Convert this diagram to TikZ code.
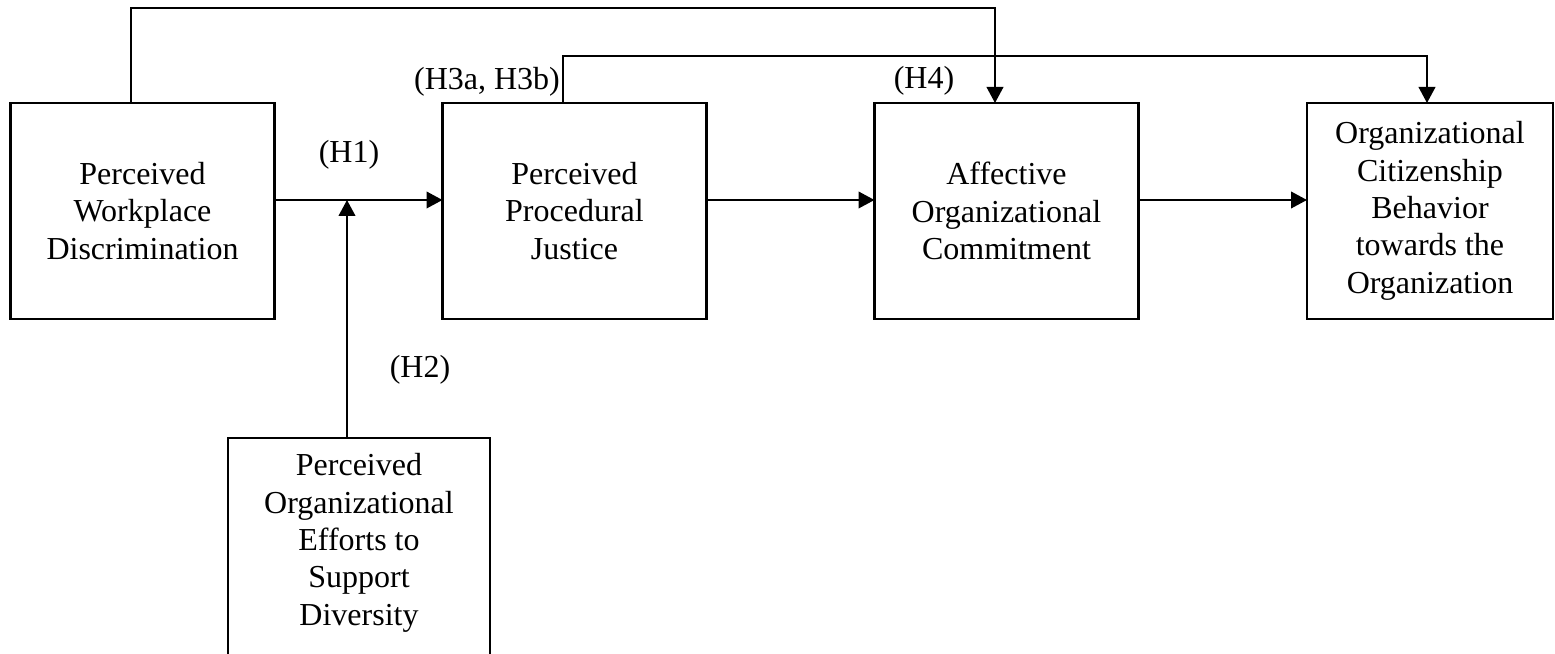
\documentclass[tikz,border=0pt]{standalone}
\usepackage{fontspec}
\setmainfont{Liberation Serif}
\usetikzlibrary{arrows.meta}
\begin{document}
\begin{tikzpicture}[x=0.375pt,y=-0.375pt,
  box/.style={draw, line width=0.85pt, inner sep=0pt, outer sep=0pt, minimum height=81pt, align=center, font=\fontsize{12}{14}\selectfont},
  txt/.style={align=center, inner sep=0pt, font=\fontsize{12}{14}\selectfont},
  lab/.style={inner sep=0pt, anchor=base, font=\fontsize{12}{14}\selectfont},
  arr/.style={line width=0.85pt, -{Triangle[length=6pt,width=6.2pt]}}]
\useasboundingbox (0,0) rectangle (1555,654);
\clip (0,0) rectangle (1555,654);
\node[box, minimum width=99pt] (pwd) at (142.5,211) {Perceived\\Workplace\\Discrimination};
\node[box, minimum width=99pt] (ppj) at (574.5,211) {Perceived\\Procedural\\Justice};
\node[box, minimum width=99pt] (aoc) at (1006.5,211) {Affective\\Organizational\\Commitment};
\node[box, minimum width=92.25pt] (ocb) at (1430,211) {Organizational\\Citizenship\\Behavior\\towards the\\Organization};
\node[box, minimum width=98.25pt, minimum height=90pt, anchor=north] (pe) at (359,438) {};
\node[txt] (pet) at (359,543) {Perceived\\Organizational\\Efforts to\\Support\\Diversity};
\coordinate (ay) at (0,200);
\coordinate (m) at (347,200);
\coordinate (t1) at (131,8);
\coordinate (t2) at (995,8);
\coordinate (t3) at (563,56);
\coordinate (t4) at (1427,56);
\draw[arr] (pwd.east |- ay) -- (ppj.west |- ay);
\draw[arr] (ppj.east |- ay) -- (aoc.west |- ay);
\draw[arr] (aoc.east |- ay) -- (ocb.west |- ay);
\draw[arr] (m |- pe.north) -- (m);
\draw[arr] (pwd.north -| t1) -- (t1) -- (t2) -- (t2 |- aoc.north);
\draw[arr] (ppj.north -| t3) -- (t3) -- (t4) -- (t4 |- ocb.north);
\node[lab] (h1) at (349,163) {(H1)};
\node[lab] (h2) at (420,378) {(H2)};
\node[lab] (h3) at (487,90) {(H3a, H3b)};
\node[lab] (h4) at (924,89) {(H4)};
\end{tikzpicture}
\end{document}
